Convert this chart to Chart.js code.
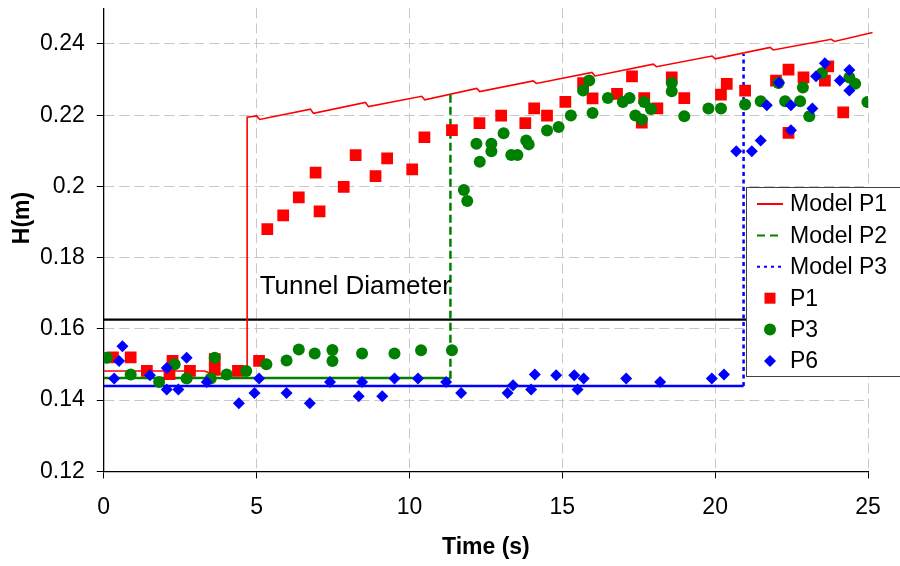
<!DOCTYPE html>
<html>
<head>
<meta charset="utf-8">
<script src="https://cdn.jsdelivr.net/npm/chart.js@4/dist/chart.umd.min.js"></script>
<style>
  html, body { margin: 0; padding: 0; background: #fff; }
  #wrap { width: 900px; height: 566px; }
</style>
</head>
<body>
<div id="wrap"><canvas id="hChart" width="900" height="566"></canvas></div>
<script>
// axis ticks
const xTicks = [0, 5, 10, 15, 20, 25];
const yTicks = [0.12, 0.14, 0.16, 0.18, 0.2, 0.22, 0.24];

// Model P1 (red solid)
const model1X = [0, 3.3, 3.5, 4.69, 4.69, 5.0, 5.1, 6.76, 6.86, 8.56, 8.66, 10.4, 10.5, 12.2, 12.3, 14.05, 14.15, 15.97, 16.07, 17.98, 18.08, 19.9, 20.0, 21.8, 21.9, 23.8, 23.9, 25.15];
const model1Y = [0.1482, 0.1482, 0.1475, 0.1475, 0.2194, 0.2198, 0.2188, 0.2217, 0.2205, 0.2236, 0.2224, 0.2253, 0.2243, 0.2275, 0.2266, 0.2296, 0.2289, 0.2320, 0.2310, 0.2343, 0.2336, 0.2366, 0.2358, 0.2390, 0.2383, 0.2413, 0.2407, 0.2432];

// Model P2 (green dashed)
const model2X = [0, 11.1, 11.34, 11.34];
const model2Y = [0.1462, 0.1462, 0.1460, 0.2259];

// Model P3 (blue dotted)
const model3X = [0, 20.93, 20.93];
const model3Y = [0.1440, 0.1440, 0.2372];

// Tunnel diameter line
const tunnelX = [0, 25];
const tunnelY = [0.1626, 0.1626];
const tunnelLabel = 'Tunnel Diameter';
const tunnelLabelAt = [5.1, 0.1697];

// measured P1
const p1X = [0.3, 0.88, 1.41, 2.15, 2.25, 2.82, 3.63, 3.63, 4.39, 5.08, 5.35, 5.87, 6.38, 6.93, 7.06, 7.85, 8.24, 8.89, 9.27, 10.09, 10.49, 11.39, 12.29, 13.0, 13.79, 14.08, 14.5, 15.1, 15.68, 15.99, 16.79, 17.28, 17.6, 17.68, 18.11, 18.58, 18.99, 20.19, 20.38, 20.98, 21.99, 22.4, 22.4, 22.89, 23.59, 23.7, 24.19];
const p1Y = [0.152, 0.152, 0.1482, 0.1473, 0.151, 0.1482, 0.1515, 0.1485, 0.1482, 0.151, 0.188, 0.1919, 0.1969, 0.2039, 0.193, 0.1999, 0.2088, 0.2029, 0.2079, 0.2048, 0.2138, 0.2158, 0.2178, 0.2199, 0.2178, 0.2219, 0.2199, 0.2237, 0.229, 0.2247, 0.226, 0.2309, 0.2179, 0.2248, 0.2219, 0.2306, 0.2248, 0.2258, 0.2288, 0.2269, 0.2297, 0.2328, 0.215, 0.2306, 0.2297, 0.2337, 0.2208];

// measured P3
const p3X = [0.1, 0.88, 1.81, 2.32, 2.71, 3.5, 3.63, 4.02, 4.66, 5.32, 5.98, 6.38, 6.9, 7.48, 7.48, 8.45, 9.51, 10.38, 11.39, 11.78, 11.89, 12.19, 12.3, 12.68, 12.68, 13.08, 13.33, 13.53, 13.82, 13.9, 14.5, 14.88, 15.28, 15.68, 15.88, 15.99, 16.49, 16.98, 17.2, 17.39, 17.6, 17.68, 17.9, 18.58, 18.58, 18.99, 19.78, 20.19, 20.98, 21.49, 22.07, 22.29, 22.78, 22.87, 23.08, 23.49, 24.39, 24.58, 24.98];
const p3Y = [0.1519, 0.1472, 0.1451, 0.1501, 0.1461, 0.1461, 0.1519, 0.1472, 0.1482, 0.1501, 0.1511, 0.1542, 0.1531, 0.1541, 0.151, 0.1531, 0.1531, 0.154, 0.154, 0.199, 0.1959, 0.212, 0.2069, 0.212, 0.2099, 0.2149, 0.2088, 0.2088, 0.2129, 0.2118, 0.2157, 0.2167, 0.2199, 0.2269, 0.2297, 0.2206, 0.2248, 0.2237, 0.2248, 0.2199, 0.2188, 0.2237, 0.2217, 0.229, 0.2267, 0.2197, 0.2219, 0.2219, 0.223, 0.2239, 0.229, 0.2239, 0.2239, 0.2278, 0.2197, 0.2318, 0.2306, 0.2288, 0.2237];

// measured P6
const p6X = [0.34, 0.5, 0.61, 1.51, 2.06, 2.06, 2.44, 2.71, 3.37, 4.42, 4.93, 5.08, 5.98, 6.74, 7.4, 8.34, 8.45, 9.11, 9.51, 10.28, 11.2, 11.69, 13.21, 13.39, 13.98, 14.1, 14.8, 15.39, 15.5, 15.7, 17.09, 18.2, 19.89, 20.29, 20.69, 21.2, 21.49, 21.69, 22.09, 22.48, 22.48, 23.18, 23.3, 23.59, 24.08, 24.39, 24.39];
const p6Y = [0.1461, 0.151, 0.1551, 0.147, 0.149, 0.143, 0.143, 0.1519, 0.1451, 0.1391, 0.142, 0.1461, 0.142, 0.1391, 0.1451, 0.1411, 0.1451, 0.1411, 0.1461, 0.1461, 0.1451, 0.142, 0.142, 0.1442, 0.143, 0.1472, 0.147, 0.147, 0.143, 0.1461, 0.1461, 0.1451, 0.1461, 0.1472, 0.2099, 0.2099, 0.2129, 0.2228, 0.2291, 0.2228, 0.2158, 0.2219, 0.2309, 0.2346, 0.2297, 0.2327, 0.2269];

const FONT = '"Liberation Sans", Arial, sans-serif';

function toPoints(xs, ys) {
    return xs.map((x, i) => ({ x: x, y: ys[i] }));
}

// only the last (vertical) segment of a step line gets the dash pattern
function lastSegDash(dash) {
    return ctx => ctx.p1DataIndex === ctx.chart.data.datasets[ctx.datasetIndex].data.length - 1 ? dash : [];
}

// legend entries (drawn in a white box over the plot)
const legendItems = [
    { text: 'Model P1', kind: 'line', color: '#ff0000', dash: [] },
    { text: 'Model P2', kind: 'line', color: '#008000', dash: [8, 5] },
    { text: 'Model P3', kind: 'line', color: '#0000ff', dash: [3, 4] },
    { text: 'P1', kind: 'rect', color: '#ff0000' },
    { text: 'P3', kind: 'circle', color: '#008000' },
    { text: 'P6', kind: 'diamond', color: '#0000ff' }
];

function drawMarker(ctx, kind, x, y, s) {
    ctx.beginPath();
    if (kind === 'rect') {
        ctx.rect(x - s, y - s, 2 * s, 2 * s);
    } else if (kind === 'circle') {
        ctx.arc(x, y, s, 0, Math.PI * 2);
    } else {
        ctx.moveTo(x, y - s); ctx.lineTo(x + s, y); ctx.lineTo(x, y + s); ctx.lineTo(x - s, y);
        ctx.closePath();
    }
    ctx.fill();
}

const extrasPlugin = {
    id: 'extras',
    afterDatasetsDraw(chart) {
        const ctx = chart.ctx;
        const xs = chart.scales.x, ys = chart.scales.y;
        ctx.save();
        ctx.fillStyle = '#000';
        ctx.font = '26px ' + FONT;
        ctx.textAlign = 'left';
        ctx.textBaseline = 'alphabetic';
        ctx.fillText(tunnelLabel, xs.getPixelForValue(tunnelLabelAt[0]), ys.getPixelForValue(tunnelLabelAt[1]));
        ctx.restore();
    },
    afterDraw(chart) {
        const ctx = chart.ctx;
        ctx.save();
        // y axis title
        ctx.fillStyle = '#000';
        ctx.font = 'bold 23px ' + FONT;
        ctx.translate(23, 218);
        ctx.rotate(-Math.PI / 2);
        ctx.textAlign = 'center';
        ctx.textBaseline = 'middle';
        ctx.fillText('H(m)', 0, 0);
        ctx.restore();

        // legend box
        ctx.save();
        ctx.fillStyle = '#fff';
        ctx.fillRect(746, 187, 170, 189);
        ctx.strokeStyle = '#404040';
        ctx.lineWidth = 1;
        ctx.strokeRect(746.5, 187.5, 170, 189);
        ctx.font = '23px ' + FONT;
        ctx.textBaseline = 'middle';
        ctx.textAlign = 'left';
        legendItems.forEach((it, i) => {
            const y = 204 + i * 31.4;
            if (it.kind === 'line') {
                ctx.strokeStyle = it.color;
                ctx.lineWidth = 2;
                ctx.setLineDash(it.dash);
                ctx.beginPath();
                ctx.moveTo(757, y);
                ctx.lineTo(783, y);
                ctx.stroke();
                ctx.setLineDash([]);
            } else {
                ctx.fillStyle = it.color;
                drawMarker(ctx, it.kind, 770, y, it.kind === 'rect' ? 5.5 : 6);
            }
            ctx.fillStyle = '#000';
            ctx.fillText(it.text, 790, y + 1);
        });
        ctx.restore();
    }
};

const ctx = document.getElementById('hChart').getContext('2d');

new Chart(ctx, {
    type: 'scatter',
    data: {
        datasets: [
            {
                label: 'P6',
                data: toPoints(p6X, p6Y),
                pointStyle: 'rectRot',
                pointRadius: 6,
                backgroundColor: '#0000ff',
                borderColor: '#0000ff',
                borderWidth: 0,
                order: 0
            },
            {
                label: 'P3',
                data: toPoints(p3X, p3Y),
                pointStyle: 'circle',
                pointRadius: 6,
                backgroundColor: '#008000',
                borderColor: '#008000',
                borderWidth: 0,
                order: 1
            },
            {
                label: 'P1',
                data: toPoints(p1X, p1Y),
                pointStyle: 'rect',
                pointRadius: 8.3,
                backgroundColor: '#ff0000',
                borderColor: '#ff0000',
                borderWidth: 0,
                order: 2
            },
            {
                label: 'Model P3',
                data: toPoints(model3X, model3Y),
                showLine: true,
                pointRadius: 0,
                borderColor: '#0000ff',
                borderWidth: 2.5,
                segment: { borderDash: lastSegDash([4, 3.5]) },
                order: 3
            },
            {
                label: 'Model P2',
                data: toPoints(model2X, model2Y),
                showLine: true,
                pointRadius: 0,
                borderColor: '#008000',
                borderWidth: 2.5,
                segment: { borderDash: lastSegDash([8, 4]) },
                order: 4
            },
            {
                label: 'Model P1',
                data: toPoints(model1X, model1Y),
                showLine: true,
                pointRadius: 0,
                borderColor: '#ff0000',
                borderWidth: 1.6,
                clip: false,
                order: 5
            },
            {
                label: 'Tunnel',
                data: toPoints(tunnelX, tunnelY),
                showLine: true,
                pointRadius: 0,
                borderColor: '#000000',
                borderWidth: 2.2,
                order: 6
            }
        ]
    },
    options: {
        responsive: false,
        animation: false,
        layout: { padding: { left: 28, right: 32, top: 7, bottom: 0 } },
        plugins: {
            legend: { display: false },
            tooltip: { enabled: false }
        },
        scales: {
            x: {
                type: 'linear',
                min: 0,
                max: 25,
                afterBuildTicks: s => { s.ticks = xTicks.map(v => ({ value: v })); },
                ticks: { color: '#000', font: { family: FONT, size: 23 }, padding: 15, maxRotation: 0 },
                grid: { color: '#c8c8c8', lineWidth: 1, tickColor: '#000', tickLength: 7, tickBorderDash: [], tickWidth: 1 },
                border: { color: '#000', width: 1.3, dash: [10, 5] },
                title: {
                    display: true,
                    text: 'Time (s)',
                    color: '#000',
                    font: { family: FONT, size: 23, weight: 'bold', lineHeight: 1 },
                    padding: { top: 0, bottom: 7 }
                }
            },
            y: {
                type: 'linear',
                min: 0.12,
                max: 0.25,
                afterBuildTicks: s => { s.ticks = yTicks.map(v => ({ value: v })); },
                afterFit: s => { s.paddingTop = 0; },
                ticks: {
                    color: '#000',
                    font: { family: FONT, size: 23 },
                    padding: 12,
                    callback: v => String(+v.toFixed(2))
                },
                grid: { color: '#c8c8c8', lineWidth: 1, tickColor: '#000', tickLength: 7, tickBorderDash: [], tickWidth: 1 },
                border: { color: '#000', width: 1.3, dash: [10, 5] }
            }
        }
    },
    plugins: [extrasPlugin]
});
</script>
</body>
</html>
